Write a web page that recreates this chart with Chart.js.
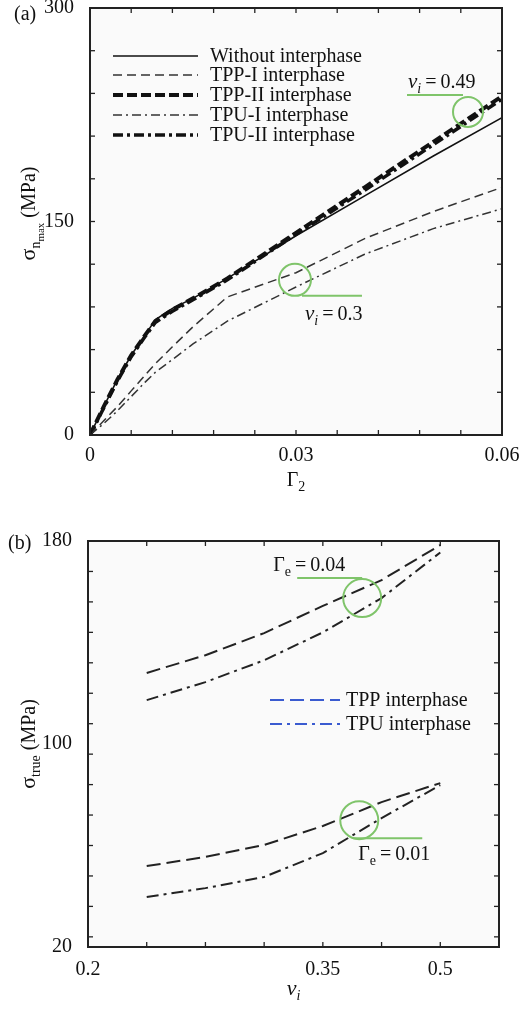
<!DOCTYPE html>
<html>
<head>
<meta charset="utf-8">
<script src="https://cdn.jsdelivr.net/npm/chart.js@4.4.0/dist/chart.umd.min.js"></script>
<style>
  body { margin: 0; background: #fff; width: 519px; height: 1010px; position: relative; overflow: hidden; }
  canvas { position: absolute; left: 0; }
  #chartA { top: 0; }
  #chartB { top: 505px; }
</style>
</head>
<body>
<canvas id="chartA" width="519" height="500"></canvas>
<canvas id="chartB" width="519" height="505"></canvas>
<script>
// ---- (a) sigma_nmax vs Gamma_2 ----
const gamma2 = [0, 0.002, 0.004, 0.006, 0.008, 0.0095, 0.012, 0.015, 0.02, 0.03, 0.04, 0.05, 0.06];
const withoutInter = [0, 20, 39, 56, 70, 81, 89, 96, 110, 140, 168, 196, 223];
const tpp1 = [0, 10, 20, 31, 42, 50, 62, 76, 97, 114, 138, 157, 174];
const tpp2 = [0, 20, 39, 56, 70, 80, 88, 96, 110, 142, 174, 206, 238];
const tpu1 = [0, 8, 17, 27, 37, 44, 53, 64, 80, 104, 127, 145, 159];
const tpu2 = [0, 19, 38, 55, 69, 79, 87, 95, 109, 141, 172, 204, 236];
const topXTicks = [0, 0.006, 0.012, 0.018, 0.024, 0.03, 0.036, 0.042, 0.048, 0.054, 0.06];
const topXTickLabels = ['0', '', '', '', '', '0.03', '', '', '', '', '0.06'];
const topYLabelled = [0, 150, 300];

// ---- (b) sigma_true vs nu_i ----
const nuTickLabels = ['0.2', '', '', '', '0.35', '', '0.5', ''];
const tppG04 = [null, 128, 135, 143.7, 154.4, 164.6, 178.4, null];
const tpuG04 = [null, 117.3, 124.4, 133, 144, 157.5, 175.5, null];
const tppG01 = [null, 51.9, 55.5, 60.2, 67.7, 77.1, 84.6, null];
const tpuG01 = [null, 39.7, 43.2, 47.6, 57, 70.8, 83.8, null];
const bottomYLabelled = [20, 100, 180];
const bottomYMarks = [24, 36, 48, 60, 72, 84, 96, 108, 120, 132, 144, 156, 168, 180];
const legendB = ['TPP interphase', 'TPU interphase'];

const SERIF = '"Liberation Serif", "DejaVu Serif", serif';

function richText(ctx, parts, x, y, align) {
  // parts: [text, size, dy, italic]
  let w = 0;
  parts.forEach(p => { ctx.font = (p[3] ? 'italic ' : '') + p[1] + 'px ' + SERIF; w += ctx.measureText(p[0]).width; });
  let cx = align === 'center' ? x - w / 2 : x;
  parts.forEach(p => {
    ctx.font = (p[3] ? 'italic ' : '') + p[1] + 'px ' + SERIF;
    ctx.fillText(p[0], cx, y + p[2]);
    cx += ctx.measureText(p[0]).width;
  });
}

function seg(ctx, x1, y1, x2, y2) {
  ctx.beginPath(); ctx.moveTo(x1, y1); ctx.lineTo(x2, y2); ctx.stroke();
}

// no extra room for tick labels that hang over the plot edges
function noOverhang(s) {
  s.paddingLeft = 0; s.paddingRight = 0; s.paddingTop = 0; s.paddingBottom = 0;
}

const framePlugin = {
  id: 'frame',
  beforeDraw(chart) {
    const { ctx, chartArea: a } = chart;
    ctx.save();
    ctx.fillStyle = '#fafafa';
    ctx.fillRect(a.left, a.top, a.right - a.left, a.bottom - a.top);
    ctx.restore();
  },
  afterDraw(chart, args, opts) {
    const { ctx, chartArea: a, scales } = chart;
    ctx.save();
    ctx.strokeStyle = '#222';
    ctx.lineWidth = 1.3;
    ctx.setLineDash([]);
    opts.xMarks.forEach(v => {
      const x = scales.x.getPixelForValue(v);
      seg(ctx, x, a.bottom, x, a.bottom - 5);
      seg(ctx, x, a.top, x, a.top + 5);
    });
    opts.yMarks.forEach(v => {
      const y = scales.y.getPixelForValue(v);
      seg(ctx, a.left, y, a.left + 5, y);
      seg(ctx, a.right, y, a.right - 5, y);
    });
    ctx.lineWidth = 2;
    ctx.strokeRect(a.left, a.top, a.right - a.left, a.bottom - a.top);

    // legend
    const lg = opts.legend;
    lg.items.forEach((it, i) => {
      const y = lg.ys[i];
      ctx.strokeStyle = it.color;
      ctx.lineWidth = it.width;
      ctx.setLineDash(it.dash);
      seg(ctx, lg.x0, y, lg.x1, y);
      ctx.setLineDash([]);
      ctx.fillStyle = '#111';
      ctx.font = '20px ' + SERIF;
      ctx.textBaseline = 'middle';
      ctx.fillText(it.label, lg.tx, y + 1);
    });

    // annotations
    ctx.textBaseline = 'alphabetic';
    opts.notes.forEach(n => {
      const cx = scales.x.getPixelForValue(n.at[0]);
      const cy = scales.y.getPixelForValue(n.at[1]);
      ctx.strokeStyle = '#7fc46a';
      ctx.lineWidth = 2;
      ctx.beginPath(); ctx.arc(cx, cy, n.r, 0, Math.PI * 2); ctx.stroke();
      seg(ctx, cx + n.line[0], cy + n.line[2], cx + n.line[1], cy + n.line[2]);
      ctx.fillStyle = '#111';
      richText(ctx, n.text, cx + n.tpos[0], cy + n.tpos[1], 'left');
    });

    // titles
    ctx.fillStyle = '#111';
    ctx.font = '20px ' + SERIF;
    ctx.fillText(opts.panel[0], opts.panel[1], opts.panel[2]);
    richText(ctx, opts.xTitle, (a.left + a.right) / 2, opts.xTitleY, 'center');
    ctx.translate(opts.yTitleX, (a.top + a.bottom) / 2 + opts.yTitleShift);
    ctx.rotate(-Math.PI / 2);
    richText(ctx, opts.yTitle, 0, 0, 'center');
    ctx.restore();
  }
};

const tickFont = { family: SERIF, size: 20 };

function topSeries(label, vals, dash, width, color) {
  return {
    label: label,
    data: gamma2.map((g, i) => ({ x: g, y: vals[i] })),
    borderColor: color, borderWidth: width, borderDash: dash,
    pointRadius: 0, tension: 0, fill: false
  };
}

const dsA = [
  topSeries('Without interphase', withoutInter, [], 1.6, '#111'),
  topSeries('TPP-I interphase', tpp1, [9, 5], 1.5, '#333'),
  topSeries('TPP-II interphase', tpp2, [10, 4], 4, '#111'),
  topSeries('TPU-I interphase', tpu1, [9, 4, 2, 4], 1.5, '#333'),
  topSeries('TPU-II interphase', tpu2, [10, 4, 3, 4], 3.5, '#111')
];

new Chart(document.getElementById('chartA'), {
  type: 'line',
  data: { datasets: dsA },
  plugins: [framePlugin],
  options: {
    responsive: false,
    animation: false,
    layout: { padding: { top: 8, right: 17, left: 0, bottom: 0 } },
    scales: {
      x: {
        type: 'linear', min: 0, max: 0.06,
        afterBuildTicks: s => { s.ticks = topXTicks.map(v => ({ value: v })); },
        afterFit: s => { s.height = 65; noOverhang(s); },
        grid: { display: false }, border: { display: false },
        ticks: { font: tickFont, color: '#111', padding: 1, maxRotation: 0, autoSkip: false,
          callback: (v, i) => topXTickLabels[i] }
      },
      y: {
        type: 'linear', min: 0, max: 300,
        afterBuildTicks: s => { s.ticks = topYLabelled.map(v => ({ value: v })); },
        afterFit: s => { s.width = 90; noOverhang(s); },
        grid: { display: false }, border: { display: false },
        ticks: { font: tickFont, color: '#111', padding: 8, callback: v => String(v) }
      }
    },
    plugins: {
      legend: { display: false },
      tooltip: { enabled: false },
      frame: {
        xMarks: topXTicks,
        yMarks: [30, 60, 90, 120, 150, 180, 210, 240, 270],
        legend: {
          x0: 113, x1: 198, tx: 210, ys: [56, 75, 95, 115, 135],
          items: dsA.map(d => ({ label: d.label, color: d.borderColor, width: d.borderWidth, dash: d.borderDash }))
        },
        notes: [
          { at: [0.05505, 227], r: 15, line: [-61, -5, -17], tpos: [-60, -24],
            text: [['ν', 21, 0, true], ['i', 14, 5, true], ['\u2009=\u20090.49', 20, 0, false]] },
          { at: [0.02985, 109], r: 16, line: [7, 67, 16], tpos: [10, 40],
            text: [['ν', 21, 0, true], ['i', 14, 5, true], ['\u2009=\u20090.3', 20, 0, false]] }
        ],
        panel: ['(a)', 14, 20],
        xTitle: [['Γ', 20, 0, false], ['2', 14, 5, false]],
        xTitleY: 486,
        yTitleX: 35, yTitleShift: -8,
        yTitle: [['σ', 22, 0, false], ['n', 14, 5, false], ['max', 11, 9, false], [' (MPa)', 20, 0, false]]
      }
    }
  }
});

function botSeries(label, vals, dash) {
  return { label: label, data: vals, borderColor: '#222', borderWidth: 2, borderDash: dash,
    pointRadius: 0, tension: 0, fill: false };
}

const dashTPP = [14, 6];
const dashTPU = [12, 5, 3, 5];

new Chart(document.getElementById('chartB'), {
  type: 'line',
  data: {
    labels: nuTickLabels,
    datasets: [
      botSeries('TPP, Γe=0.04', tppG04, dashTPP),
      botSeries('TPU, Γe=0.04', tpuG04, dashTPU),
      botSeries('TPP, Γe=0.01', tppG01, dashTPP),
      botSeries('TPU, Γe=0.01', tpuG01, dashTPU)
    ]
  },
  plugins: [framePlugin],
  options: {
    responsive: false,
    animation: false,
    layout: { padding: { top: 36, right: 20, left: 0, bottom: 0 } },
    scales: {
      x: {
        type: 'category', offset: false,
        afterFit: s => { s.height = 63; noOverhang(s); },
        grid: { display: false }, border: { display: false },
        ticks: { font: tickFont, color: '#111', padding: 3, maxRotation: 0, autoSkip: false }
      },
      y: {
        type: 'linear', min: 20, max: 180,
        afterBuildTicks: s => { s.ticks = bottomYLabelled.map(v => ({ value: v })); },
        afterFit: s => { s.width = 88; noOverhang(s); },
        grid: { display: false }, border: { display: false },
        ticks: { font: tickFont, color: '#111', padding: 8, callback: v => String(v) }
      }
    },
    plugins: {
      legend: { display: false },
      tooltip: { enabled: false },
      frame: {
        xMarks: [1, 2, 3, 4, 5, 6],
        yMarks: bottomYMarks,
        legend: {
          x0: 270, x1: 340, tx: 346, ys: [195, 219],
          items: [
            { label: legendB[0], color: '#3a5bd0', width: 2, dash: dashTPP },
            { label: legendB[1], color: '#3a5bd0', width: 2, dash: dashTPU }
          ]
        },
        notes: [
          { at: [4.67, 157.5], r: 19, line: [-65, 0, -20], tpos: [-89, -27],
            text: [['Γ', 20, 0, false], ['e', 14, 5, false], ['\u2009=\u20090.04', 20, 0, false]] },
          { at: [4.62, 70], r: 19, line: [-6, 63, 18], tpos: [-1, 40],
            text: [['Γ', 20, 0, false], ['e', 14, 5, false], ['\u2009=\u20090.01', 20, 0, false]] }
        ],
        panel: ['(b)', 8, 44],
        xTitle: [['ν', 22, 0, true], ['i', 14, 5, true]],
        xTitleY: 490,
        yTitleX: 35, yTitleShift: 0,
        yTitle: [['σ', 22, 0, false], ['true', 14, 5, false], [' (MPa)', 20, 0, false]]
      }
    }
  }
});
</script>
</body>
</html>
